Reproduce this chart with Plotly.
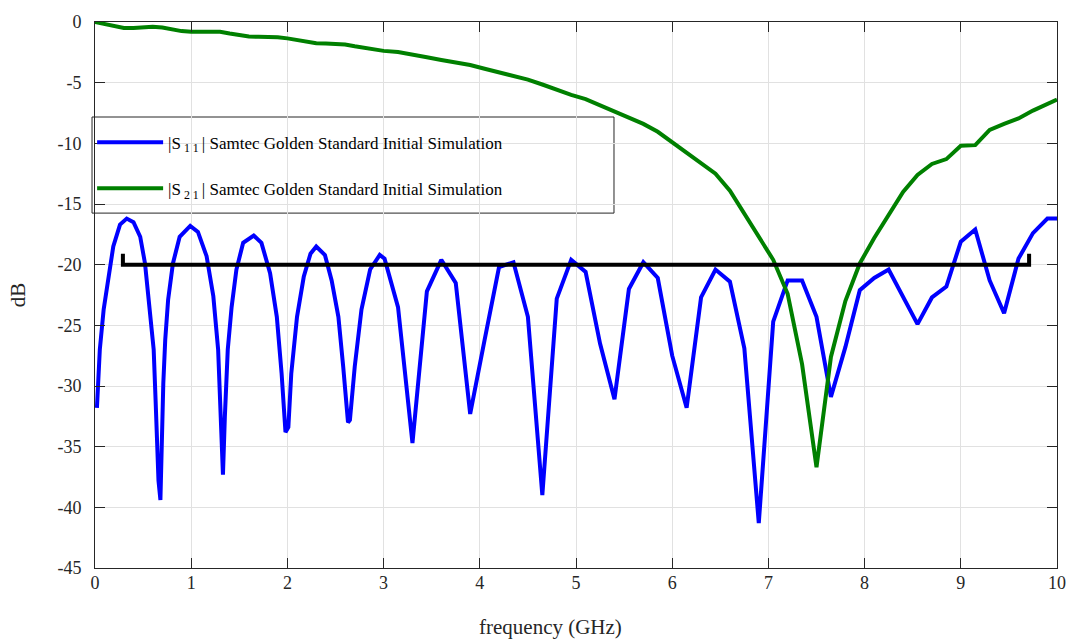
import plotly.graph_objects as go

# ---------------- data ----------------
s11_freq = [0.02, 0.05, 0.09, 0.14, 0.19, 0.26, 0.33, 0.40, 0.47, 0.52, 0.57, 0.61, 0.63, 0.66,
            0.68, 0.69, 0.71, 0.73, 0.76, 0.81, 0.88, 0.99, 1.07, 1.16, 1.23, 1.28, 1.31, 1.33,
            1.35, 1.38, 1.42, 1.47, 1.54, 1.65, 1.73, 1.82, 1.89, 1.94, 1.98, 2.01, 2.04, 2.10,
            2.17, 2.24, 2.30, 2.39, 2.46, 2.53, 2.58, 2.63, 2.65, 2.70, 2.77, 2.86, 2.96, 3.01,
            3.15, 3.30, 3.45, 3.60, 3.75, 3.90, 4.05, 4.20, 4.35, 4.50, 4.65, 4.80, 4.95, 5.10,
            5.25, 5.40, 5.55, 5.70, 5.85, 6.00, 6.15, 6.30, 6.45, 6.60, 6.75, 6.90, 7.05, 7.20,
            7.35, 7.50, 7.65, 7.80, 7.95, 8.10, 8.25, 8.40, 8.55, 8.70, 8.85, 9.00, 9.15, 9.30,
            9.45, 9.60, 9.75, 9.90, 10.0]
s11_db = [-31.8, -27.0, -23.7, -21.0, -18.5, -16.7, -16.2, -16.5, -17.7, -19.9, -23.5, -27.0,
          -31.2, -37.8, -39.4, -35.3, -29.8, -26.2, -22.9, -19.9, -17.7, -16.8, -17.3, -19.3,
          -22.6, -27.0, -32.5, -37.3, -32.5, -27.0, -23.5, -20.4, -18.2, -17.6, -18.2, -20.7,
          -24.3, -29.0, -33.8, -33.4, -29.0, -24.3, -21.0, -19.1, -18.5, -19.2, -21.3, -24.3,
          -28.4, -33.0, -32.8, -28.4, -23.7, -20.4, -19.2, -19.5,
          -23.5, -34.7, -22.2, -19.6, -21.5, -32.3, -26.2, -20.2, -19.8, -24.3, -39.0, -22.8,
          -19.6, -20.6, -26.5, -31.1, -22.0, -19.8, -21.1, -27.5, -31.8, -22.7, -20.4, -21.4,
          -26.9, -41.3, -24.7, -21.3, -21.3, -24.3, -30.9, -26.8, -22.1, -21.1, -20.4, -22.6,
          -24.9, -22.7, -21.8, -18.1, -17.1, -21.3, -24.0, -19.5, -17.4, -16.2, -16.2]

s21_freq = [0.0, 0.1, 0.2, 0.3, 0.4, 0.5, 0.6, 0.7, 0.8, 0.9, 1.0, 1.1, 1.2, 1.3, 1.4, 1.5,
            1.6, 1.7, 1.8, 1.9, 2.0, 2.1, 2.2, 2.3, 2.4, 2.5, 2.6, 2.7, 2.8, 2.9,
            3.00, 3.15, 3.30, 3.45, 3.60, 3.75, 3.90, 4.05, 4.20, 4.35, 4.50, 4.65, 4.80, 4.95,
            5.10, 5.25, 5.40, 5.55, 5.70, 5.85, 6.00, 6.15, 6.30, 6.45, 6.60, 6.75, 6.90, 7.05,
            7.20, 7.35, 7.50, 7.65, 7.80, 7.95, 8.10, 8.25, 8.40, 8.55, 8.70, 8.85, 9.00, 9.15,
            9.30, 9.45, 9.60, 9.75, 9.90, 10.0]
s21_db = [0.0, -0.15, -0.35, -0.5, -0.5, -0.45, -0.4, -0.45, -0.6, -0.75, -0.8, -0.78, -0.75,
          -0.8, -0.95, -1.1, -1.2, -1.22, -1.22, -1.25, -1.35, -1.5, -1.65, -1.75, -1.78, -1.8,
          -1.85, -2.0, -2.15, -2.3,
          -2.38, -2.48, -2.65, -2.9, -3.13, -3.3, -3.55, -3.85, -4.15, -4.45, -4.75, -5.15, -5.6,
          -6.0, -6.35, -6.85, -7.4, -7.9, -8.4, -9.05, -9.9, -10.8, -11.6, -12.5, -13.9, -15.8,
          -17.8, -19.6, -22.4, -28.2, -36.7, -27.6, -23.0, -19.9, -17.8, -15.9, -14.0, -12.6,
          -11.7, -11.3, -10.2, -10.15, -8.9, -8.4, -7.95, -7.3, -6.8, -6.4]

spec_freq = [0.29, 0.29, 9.71, 9.71]
spec_db = [-19.1, -20.0, -20.0, -19.1]

x_ticks = [0, 1, 2, 3, 4, 5, 6, 7, 8, 9, 10]
y_ticks = [0, -5, -10, -15, -20, -25, -30, -35, -40, -45]

s11_name = "|S<sub> 1 1 </sub>| Samtec Golden Standard Initial Simulation"
s21_name = "|S<sub> 2 1 </sub>| Samtec Golden Standard Initial Simulation"
x_title = "frequency (GHz)"
y_title = "dB"

FONT = "Liberation Serif"
INK = "#262626"

fig = go.Figure()
fig.add_trace(go.Scatter(x=s11_freq, y=s11_db, mode="lines", name=s11_name,
                         line=dict(color="#0000ff", width=4), legendgroup="a"))
fig.add_trace(go.Scatter(x=s21_freq, y=s21_db, mode="lines", name=s21_name,
                         line=dict(color="#008000", width=4), legendgroup="b"))
fig.add_trace(go.Scatter(x=spec_freq, y=spec_db, mode="lines", showlegend=False,
                         line=dict(color="#000000", width=4)))

axis_common = dict(showline=True, linecolor=INK, linewidth=1, mirror="ticks",
                   ticks="inside", ticklen=10, tickcolor=INK, showgrid=True,
                   gridcolor="#e1e1e1", gridwidth=1, zeroline=False, automargin=False,
                   tickfont=dict(family=FONT, size=18, color=INK))

fig.update_xaxes(range=[0, 10], tickvals=x_ticks, ticktext=[str(v) for v in x_ticks],
                 ticklabelstandoff=-2, **axis_common)
fig.update_yaxes(range=[-45, 0], tickvals=y_ticks, ticktext=[str(v) for v in y_ticks],
                 title=dict(text=y_title, font=dict(family=FONT, size=21, color=INK),
                            standoff=26),
                 ticklabelstandoff=9,
                 **axis_common)

# legend frame (MATLAB-style box, wider than the text)
fig.add_shape(type="rect", xref="paper", yref="paper",
              x0=-0.0031, x1=0.5395, y0=0.650, y1=0.826,
              line=dict(color=INK, width=1), fillcolor="white", layer="between")

fig.add_annotation(text=x_title, xref="paper", yref="paper", x=0.473, y=-0.108,
                   xanchor="center", yanchor="middle", showarrow=False,
                   font=dict(family=FONT, size=21, color=INK))

fig.update_layout(
    width=1068, height=642,
    margin=dict(l=95, r=11, t=22, b=74),
    paper_bgcolor="white", plot_bgcolor="white",
    font=dict(family=FONT, color=INK),
    legend=dict(x=-0.003, y=0.812, xanchor="left", yanchor="top",
                bgcolor="rgba(0,0,0,0)", borderwidth=0,
                font=dict(family=FONT, size=17, color="#000000"),
                itemwidth=66, tracegroupgap=21, traceorder="grouped"),
)

# remove the default page margin so the figure fills the window exactly
fig.write_html("out.html",
               config={"displayModeBar": False},
               post_script="document.body.style.margin='0';"
                           "document.body.style.overflow='hidden';")
